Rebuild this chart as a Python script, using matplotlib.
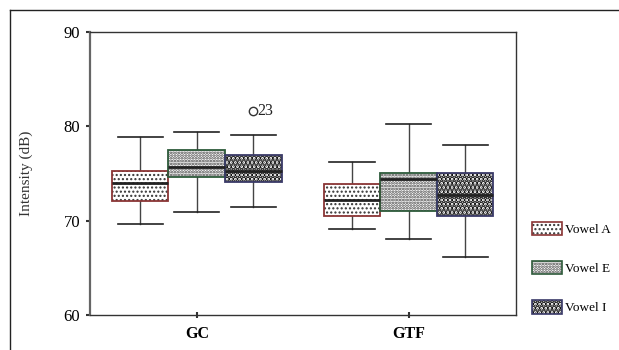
import matplotlib
matplotlib.use("Agg")
import matplotlib.pyplot as plt
from matplotlib.patches import Patch, PathPatch
from matplotlib.lines import Line2D
from matplotlib.legend_handler import HandlerBase
from matplotlib.patches import Rectangle

plt.rcParams['font.family'] = ['Liberation Serif', 'DejaVu Serif']

groups = ["GC", "GTF"]
vowels = ["Vowel A", "Vowel E", "Vowel I"]
# per vowel: values for [GC, GTF]
q1 = {"Vowel A": [72.1, 70.5], "Vowel E": [74.6, 71.0], "Vowel I": [74.1, 70.5]}
med = {"Vowel A": [73.95, 72.2], "Vowel E": [75.7, 74.45], "Vowel I": [75.3, 72.7]}
q3 = {"Vowel A": [75.25, 73.85], "Vowel E": [77.45, 75.05], "Vowel I": [76.95, 75.0]}
wlo = {"Vowel A": [69.65, 69.1], "Vowel E": [70.9, 68.05], "Vowel I": [71.45, 66.1]}
whi = {"Vowel A": [78.9, 76.2], "Vowel E": [79.4, 80.2], "Vowel I": [79.05, 78.0]}
outlier_value = 81.6
outlier_label = "23"
outlier_group = "GC"
outlier_vowel = "Vowel I"

edge_colors = {"Vowel A": "#8a3535", "Vowel E": "#2d5a3a", "Vowel I": "#3a3a68"}
hatches = {"Vowel A": "....", "Vowel E": "......", "Vowel I": "...."}
hatch_lw = {"Vowel A": 1.0, "Vowel E": 1.3, "Vowel I": 2.6}
hatch_col = {"Vowel A": "#333333", "Vowel E": "#444444", "Vowel I": "#111111"}

fig = plt.figure(figsize=(6.19, 3.5), dpi=100)
ax = fig.add_axes([90/619, 1-315/350, 426/619, (315-31.7)/350])


def hatched_patch(path, v, **kw):
    with plt.rc_context({'hatch.linewidth': hatch_lw[v]}):
        p = PathPatch(path, facecolor='white', edgecolor=hatch_col[v],
                      hatch=hatches[v], linewidth=0, **kw)
    if hasattr(p, 'set_hatch_linewidth'):
        p.set_hatch_linewidth(hatch_lw[v])
    return p


width = 0.267
offsets = [-width, 0.0, width]
for vi, v in enumerate(vowels):
    stats = []
    pos = []
    for gi, g in enumerate(groups):
        fl = [outlier_value] if (g == outlier_group and v == outlier_vowel) else []
        stats.append(dict(med=med[v][gi], q1=q1[v][gi], q3=q3[v][gi],
                          whislo=wlo[v][gi], whishi=whi[v][gi], fliers=fl))
        pos.append(gi + offsets[vi])
    bp = ax.bxp(stats, positions=pos, widths=width, patch_artist=True,
                showfliers=True, capwidths=width*0.8,
                medianprops=dict(color='#222222', linewidth=2.0, zorder=5),
                whiskerprops=dict(color='#444444', linewidth=1.0),
                capprops=dict(color='#222222', linewidth=1.2),
                flierprops=dict(marker='o', markerfacecolor='none',
                                markeredgecolor='#333333', markersize=6))
    for b in bp['boxes']:
        b.set_visible(False)
        path = b.get_path()
        ax.add_patch(hatched_patch(path, v, zorder=3))
        ax.add_patch(PathPatch(path, fill=False, edgecolor=edge_colors[v],
                               linewidth=1.3, zorder=4))
    for f in bp['fliers']:
        for xx, yy in zip(f.get_xdata(), f.get_ydata()):
            ax.annotate(outlier_label, (xx, yy), xytext=(3, 0), textcoords='offset points',
                        va='center', ha='left', fontsize=11.5, color='#222222')

ax.set_xlim(-0.504, 1.507)
ax.set_ylim(60, 90)
ax.set_yticks([60, 70, 80, 90])
ax.set_xticks([0, 1])
ax.set_xticklabels(groups, fontweight='bold', fontsize=11.5)
ax.tick_params(axis='y', labelsize=12, length=3, width=1.5, color='#333333', pad=4)
ax.tick_params(axis='x', direction='inout', length=4, width=1.5, color='#333333', pad=6)
for s in ax.spines.values():
    s.set_color('#333333')
    s.set_linewidth(1.0)
ax.spines['left'].set_linewidth(1.6)
ax.spines['left'].set_color('#666666')
ax.set_ylabel("Intensity (dB)", fontsize=11, labelpad=22, color='#333333')


class HatchHandler(HandlerBase):
    def create_artists(self, legend, orig_handle, xdescent, ydescent, width, height,
                       fontsize, trans):
        v = orig_handle.get_label()
        r = Rectangle((-xdescent, -ydescent), width, height)
        rp = r.get_path().transformed(r.get_patch_transform())
        hp = hatched_patch(rp, v, transform=trans)
        ep = PathPatch(rp, fill=False, edgecolor=edge_colors[v], linewidth=1.2,
                       transform=trans)
        return [hp, ep]


handles = [Patch(facecolor='white', edgecolor=edge_colors[v], label=v) for v in vowels]
fig.legend(handles=handles, loc='center left', bbox_to_anchor=(525/619, 1-268/350),
           frameon=False, fontsize=9.5, handlelength=2.3, handleheight=1.2,
           labelspacing=1.9, handletextpad=0.2, borderpad=0,
           handler_map={Patch: HatchHandler()})

fig.add_artist(Line2D([10/619, 10/619], [0, 1-10/350], transform=fig.transFigure,
                      color='#222222', linewidth=1.0))
fig.add_artist(Line2D([10/619, 1], [1-10/350, 1-10/350], transform=fig.transFigure,
                      color='#222222', linewidth=1.0))

fig.savefig("out.png", dpi=100)
